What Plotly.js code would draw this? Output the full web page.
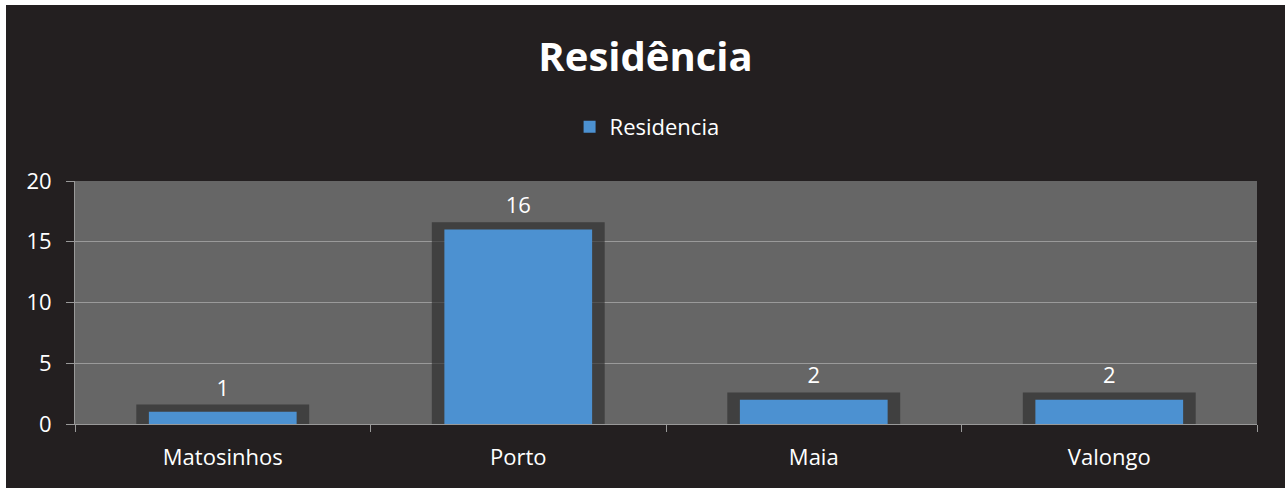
<!DOCTYPE html>
<html>
<head>
<meta charset="utf-8">
<script src="https://cdn.plot.ly/plotly-3.0.1.min.js"></script>
<style>
html,body{margin:0;padding:0;background:#ffffff;}
#chart{position:absolute;left:6px;top:5px;width:1279px;height:483px;}
</style>
</head>
<body>
<div id="chart"></div>
<script>
const categories = ["Matosinhos", "Porto", "Maia", "Valongo"];
const values = [1, 16, 2, 2];
const seriesName = "Residencia";
const chartTitle = "Residência";
const yTicks = [0, 5, 10, 15, 20];

const FONT = "'Open Sans', 'Liberation Sans', sans-serif";
const shadowPad = 0.6; // data units of shadow above each bar

const shadow = {
  type: "bar",
  x: categories,
  y: values.map(v => v + shadowPad),
  width: 0.585,
  marker: {color: "rgba(40,40,40,0.62)", line: {width: 0}},
  text: values.map(String),
  textposition: "outside",
  textfont: {family: FONT, size: 22, color: "#ffffff"},
  cliponaxis: false,
  showlegend: false,
  hoverinfo: "skip"
};

const bars = {
  type: "bar",
  name: seriesName,
  x: categories,
  y: values,
  width: 0.5,
  marker: {color: "#4c91d1", line: {width: 0}},
  textposition: "none"
};

const layout = {
  width: 1279,
  height: 483,
  paper_bgcolor: "#231f20",
  plot_bgcolor: "#666666",
  barmode: "overlay",
  margin: {l: 69, r: 28, t: 176, b: 64},
  title: {
    text: "<b>" + chartTitle + "</b>",
    font: {family: FONT, size: 40, color: "#ffffff"},
    x: 0.5, xanchor: "center",
    y: 0.892, yref: "container", yanchor: "middle"
  },
  showlegend: true,
  legend: {
    orientation: "h",
    x: 0.484, xanchor: "center",
    y: 1.222, yanchor: "middle",
    font: {family: FONT, size: 22, color: "#ffffff"},
    bgcolor: "rgba(0,0,0,0)",
    itemwidth: 30
  },
  xaxis: {
    type: "category",
    tickson: "boundaries",
    ticks: "outside",
    ticklen: 7,
    tickcolor: "#999999",
    ticklabelstandoff: 14,
    showline: true,
    linecolor: "#999999",
    linewidth: 1,
    showgrid: false,
    tickfont: {family: FONT, size: 22, color: "#ffffff"},
    fixedrange: true
  },
  yaxis: {
    range: [0, 20],
    tickvals: yTicks,
    ticktext: yTicks.map(String),
    ticks: "outside",
    ticklen: 8,
    tickcolor: "#999999",
    ticklabelstandoff: 10,
    showline: true,
    linecolor: "#999999",
    showgrid: true,
    gridcolor: "#9a9a9a",
    gridwidth: 1,
    zeroline: false,
    tickfont: {family: FONT, size: 22, color: "#ffffff"},
    fixedrange: true
  }
};

Plotly.newPlot("chart", [shadow, bars], layout, {displayModeBar: false, staticPlot: true});
</script>
</body>
</html>
